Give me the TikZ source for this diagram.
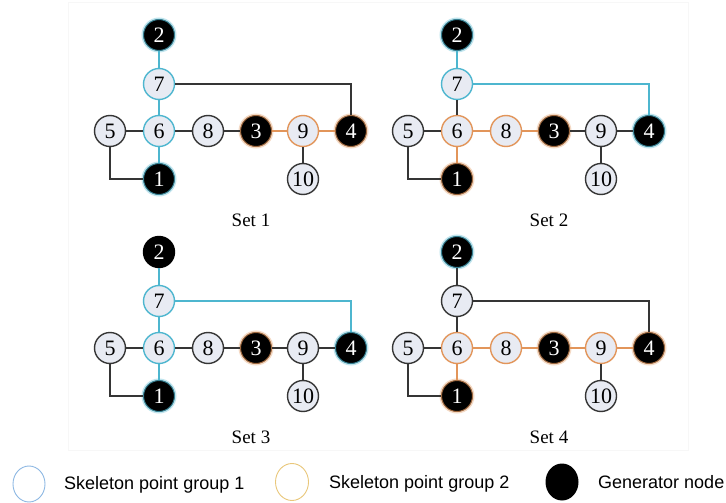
\documentclass[tikz,border=0pt]{standalone}
\usepackage{fontspec}
\setmainfont{Liberation Serif}
\newfontfamily\legfont{Liberation Sans}
\usetikzlibrary{shapes.geometric}
\definecolor{nfill}{HTML}{E8EBF3}
\definecolor{edgec}{HTML}{353535}
\definecolor{sblue}{HTML}{4DB6CF}
\definecolor{sorange}{HTML}{E2955A}
\definecolor{legblue}{HTML}{8DB8E3}
\definecolor{legorange}{HTML}{E9C77A}
\tikzset{
  basenode/.style={circle, minimum size=31pt, inner sep=0pt, line width=1.4pt,
    font=\fontsize{22}{22}\selectfont},
  plain/.style={basenode, fill=nfill, draw=edgec},
  bnode/.style={basenode, fill=nfill, draw=sblue},
  onode/.style={basenode, fill=nfill, draw=sorange},
  gen/.style={basenode, fill=black, text=white, draw=black},
  genb/.style={gen, draw=sblue!70!black, line width=1pt,
    preaction={draw=sblue, line width=4pt, opacity=0.35}},
  geno/.style={gen, draw=sorange!70!black, line width=1pt,
    preaction={draw=sorange, line width=4pt, opacity=0.35}},
  ek/.style={draw=edgec, line width=1.3pt},
  eb/.style={draw=sblue, line width=1.3pt},
  eo/.style={draw=sorange, line width=1.3pt},
  setlabel/.style={anchor=base, inner sep=0pt, font=\fontsize{19}{19}\selectfont},
  legtext/.style={anchor=base west, inner sep=0pt, font=\legfont\fontsize{18}{18}\selectfont},
}
\newcommand\drawgraph[2]{%
  \node[sty2] (#1-2) at (159,35) {2};
  \node[sty7] (#1-7) at (159,84) {7};
  \node[sty6] (#1-6) at (159,131) {6};
  \node[sty1] (#1-1) at (159,179) {1};
  \node[sty5] (#1-5) at (110,131) {5};
  \node[sty8] (#1-8) at (208,131) {8};
  \node[sty3] (#1-3) at (256,131) {3};
  \node[sty9] (#1-9) at (303,131) {9};
  \node[sty4] (#1-4) at (351,131) {4};
  \node[sty10] (#1-10) at (303,179) {10};
  \draw[e27] (#1-2) -- (#1-7);
  \draw[e76] (#1-7) -- (#1-6);
  \draw[e61] (#1-6) -- (#1-1);
  \draw[e56] (#1-5) -- (#1-6);
  \draw[e68] (#1-6) -- (#1-8);
  \draw[e83] (#1-8) -- (#1-3);
  \draw[e39] (#1-3) -- (#1-9);
  \draw[e94] (#1-9) -- (#1-4);
  \draw[e910] (#1-9) -- (#1-10);
  \draw[e51] (#1-5.south) |- (#1-1.west);
  \draw[e74] (#1-7.east) -| (#1-4.north);
  \node[setlabel] (#1-lab) at (251,226) {#2};
}
\begin{document}
\begin{tikzpicture}[x=1pt, y=-1pt]
\useasboundingbox (0,0) rectangle (726,503);
\fill[white] (0,0) rectangle (726,503);
\draw[black!3, line width=0.6pt] (68,2) rectangle (688,450);
% Set 1
\begin{scope}
\tikzset{sty2/.style=genb, sty7/.style=bnode, sty6/.style=bnode, sty1/.style=genb,
  sty5/.style=plain, sty8/.style=plain, sty3/.style=geno, sty9/.style=onode,
  sty4/.style=geno, sty10/.style=plain,
  e27/.style=eb, e76/.style=eb, e61/.style=eb, e56/.style=ek, e68/.style=ek,
  e83/.style=ek, e39/.style=eo, e94/.style=eo, e910/.style=ek, e51/.style=ek,
  e74/.style=ek}
\drawgraph{a}{Set 1}
\end{scope}
% Set 2
\begin{scope}[shift={(298,0)}]
\tikzset{sty2/.style=genb, sty7/.style=bnode, sty6/.style=onode, sty1/.style=geno,
  sty5/.style=plain, sty8/.style=onode, sty3/.style=geno, sty9/.style=plain,
  sty4/.style=genb, sty10/.style=plain,
  e27/.style=eb, e76/.style=ek, e61/.style=eo, e56/.style=ek, e68/.style=eo,
  e83/.style=eo, e39/.style=ek, e94/.style=ek, e910/.style=ek, e51/.style=ek,
  e74/.style=eb}
\drawgraph{b}{Set 2}
\end{scope}
% Set 3
\begin{scope}[shift={(0,217)}]
\tikzset{sty2/.style=gen, sty7/.style=bnode, sty6/.style=bnode, sty1/.style=genb,
  sty5/.style=plain, sty8/.style=plain, sty3/.style=geno, sty9/.style=plain,
  sty4/.style=genb, sty10/.style=plain,
  e27/.style=eb, e76/.style=eb, e61/.style=eb, e56/.style=ek, e68/.style=ek,
  e83/.style=ek, e39/.style=ek, e94/.style=ek, e910/.style=ek, e51/.style=ek,
  e74/.style=eb}
\drawgraph{c}{Set 3}
\end{scope}
% Set 4
\begin{scope}[shift={(298,217)}]
\tikzset{sty2/.style=genb, sty7/.style=plain, sty6/.style=onode, sty1/.style=geno,
  sty5/.style=plain, sty8/.style=onode, sty3/.style=geno, sty9/.style=onode,
  sty4/.style=geno, sty10/.style=plain,
  e27/.style=ek, e76/.style=ek, e61/.style=eo, e56/.style=ek, e68/.style=eo,
  e83/.style=eo, e39/.style=eo, e94/.style=eo, e910/.style=ek, e51/.style=ek,
  e74/.style=ek}
\drawgraph{d}{Set 4}
\end{scope}
% Legend
\node[ellipse, draw=legblue, line width=0.9pt, minimum width=32pt, minimum height=36pt, inner sep=0pt] (lg1) at (29,484) {};
\node[legtext] (lt1) at (64,489) {Skeleton point group 1};
\node[ellipse, draw=legorange, line width=0.9pt, minimum width=33pt, minimum height=37pt, inner sep=0pt] (lg2) at (292,482) {};
\node[legtext] (lt2) at (329,488) {Skeleton point group 2};
\node[ellipse, fill=black, minimum width=33pt, minimum height=37pt, inner sep=0pt] (lg3) at (562,482) {};
\node[legtext] (lt3) at (598,488) {Generator node};
\end{tikzpicture}
\end{document}
